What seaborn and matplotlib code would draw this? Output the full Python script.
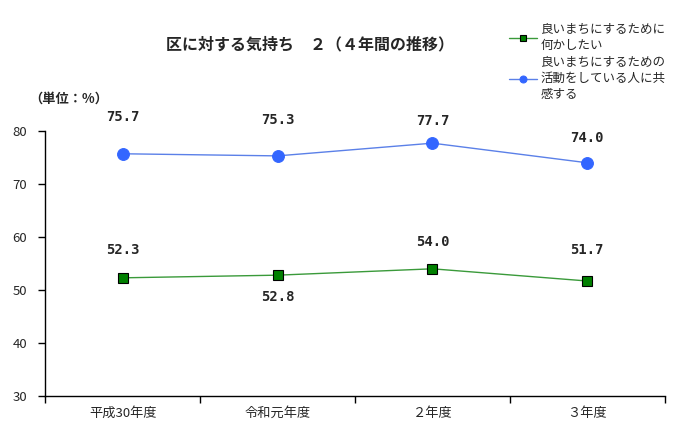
import pandas as pd
import seaborn as sns
import matplotlib.pyplot as plt

years = ["平成30年度", "令和元年度", "２年度", "３年度"]
want_help = [52.3, 52.8, 54.0, 51.7]
sympathize = [75.7, 75.3, 77.7, 74.0]
label_help = "良いまちにするために\n何かしたい"
label_symp = "良いまちにするための\n活動をしている人に共\n感する"

sns.set_style("white")
plt.rcParams["font.family"] = ["Noto Sans CJK JP", "DejaVu Sans"]

df = pd.DataFrame({"年度": years, "help": want_help, "symp": sympathize})

fig = plt.figure(figsize=(6.86, 4.47), dpi=100)
ax = fig.add_axes([0.066, 0.114, 0.903, 0.593])

sns.lineplot(data=df, x="年度", y="help", ax=ax, color="#3a9a3a", lw=1,
             marker="s", markersize=7.5, markerfacecolor="#008000",
             markeredgecolor="black", markeredgewidth=0.8, label=label_help)
sns.lineplot(data=df, x="年度", y="symp", ax=ax, color="#5b80e8", lw=1,
             marker="o", markersize=8.5, markerfacecolor="#3366ff",
             markeredgecolor="#3366ff", label=label_symp)

# data label offsets in pixels (label centre relative to point)
off_symp = [37, 36, 22, 25]
off_help = [28, -22, 27, 31]
for vals, offs in [(sympathize, off_symp), (want_help, off_help)]:
    for i, (v, o) in enumerate(zip(vals, offs)):
        ax.annotate(f"{v:.1f}", (i, v), xytext=(0, o * 0.72), textcoords="offset points",
                    ha="center", va="center", fontsize=10, fontweight="bold",
                    family="DejaVu Sans Mono")

ax.set_ylim(30, 80)
ax.set_yticks(range(30, 81, 10))
ax.set_xlim(-0.5, 3.5)
ax.set_xticks([-0.5, 0.5, 1.5, 2.5, 3.5])
ax.set_xticklabels([])
ax.set_xticks(range(4), minor=True)
ax.set_xticklabels(years, minor=True, fontsize=9.5)
ax.tick_params(axis="x", which="minor", bottom=False, length=0, pad=8)
ax.tick_params(axis="x", which="major", bottom=True, direction="out", length=5,
               width=1, color="black")
ax.tick_params(axis="y", left=True, direction="out", length=5, width=1,
               color="black", labelsize=9.5, pad=8)
ax.set_xlabel("")
ax.set_ylabel("")
sns.despine(ax=ax)
for s in ["left", "bottom"]:
    ax.spines[s].set_color("black")
    ax.spines[s].set_linewidth(1)

fig.text(0.452, 0.9, "区に対する気持ち　２（４年間の推移）", ha="center", va="center",
         fontsize=11.5, fontweight="bold")
fig.text(0.1, 0.78, "（単位：%）", ha="center", va="center", fontsize=9.5, fontweight="bold")

handles, labels = ax.get_legend_handles_labels()
leg = ax.legend(handles, labels, loc="upper left", bbox_to_anchor=(0.735, 0.96),
                bbox_transform=fig.transFigure, frameon=False, fontsize=9,
                handlelength=2.2, handletextpad=0.3, labelspacing=0.35,
                borderaxespad=0)
for h in leg.legend_handles:
    h.set_markersize(5)
for t in leg.get_texts():
    t.set_linespacing(1.3)

fig.savefig("out.png", dpi=100)
